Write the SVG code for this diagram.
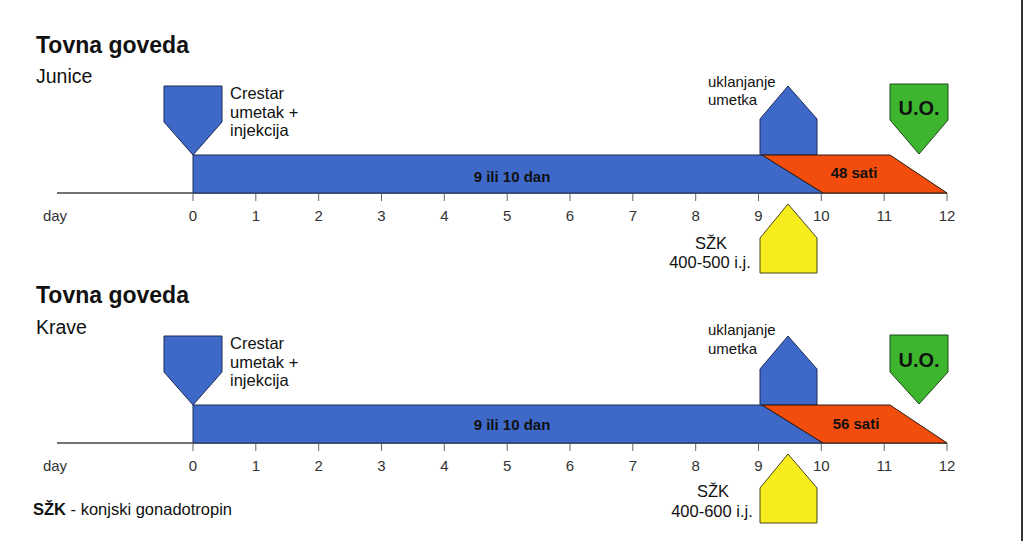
<svg xmlns="http://www.w3.org/2000/svg" width="1024" height="541" viewBox="0 0 1024 541">
<style>
text{font-family:"Liberation Sans",Arial,sans-serif;fill:#111}
.h{font-size:23px;font-weight:bold}
.s{font-size:19.5px}
.l{font-size:16.5px}
.u{font-size:15px}
.b{font-size:15px;font-weight:bold}
.uo{font-size:20px;font-weight:bold}
.d{font-size:15px;fill:#333}
.blue{fill:#3e69c9;stroke:#1c2c55;stroke-width:1}
.or{fill:#f24d0c;stroke:#2a1a10;stroke-width:1}
.gr{fill:#3db52f;stroke:#1f4a1a;stroke-width:1}
.ye{fill:#f7ec1c;stroke:#4a4620;stroke-width:1}
.ax{stroke:#444;stroke-width:1.5;fill:none}
.tk{stroke:#666;stroke-width:1}
</style>
<rect width="1024" height="541" fill="#ffffff"/>
<line x1="1022" y1="0" x2="1022" y2="541" stroke="#333" stroke-width="2"/>
<defs>
<g id="axis">
<line class="ax" x1="57" y1="193" x2="947" y2="193"/>
<g class="tk">
<line x1="193" y1="193" x2="193" y2="201"/><line x1="255.8" y1="193" x2="255.8" y2="201"/><line x1="318.7" y1="193" x2="318.7" y2="201"/><line x1="381.5" y1="193" x2="381.5" y2="201"/><line x1="444.3" y1="193" x2="444.3" y2="201"/><line x1="507.2" y1="193" x2="507.2" y2="201"/><line x1="570" y1="193" x2="570" y2="201"/><line x1="632.8" y1="193" x2="632.8" y2="201"/><line x1="695.7" y1="193" x2="695.7" y2="201"/><line x1="758.5" y1="193" x2="758.5" y2="201"/><line x1="821.3" y1="193" x2="821.3" y2="201"/><line x1="884.2" y1="193" x2="884.2" y2="201"/><line x1="947" y1="193" x2="947" y2="201"/>
</g>
<g text-anchor="middle">
<text x="55" y="221" class="d">day</text>
<text x="193" y="221" class="d">0</text><text x="255.8" y="221" class="d">1</text><text x="318.7" y="221" class="d">2</text><text x="381.5" y="221" class="d">3</text><text x="444.3" y="221" class="d">4</text><text x="507.2" y="221" class="d">5</text><text x="570" y="221" class="d">6</text><text x="632.8" y="221" class="d">7</text><text x="695.7" y="221" class="d">8</text><text x="758.5" y="221" class="d">9</text><text x="821.3" y="221" class="d">10</text><text x="884.2" y="221" class="d">11</text><text x="947" y="221" class="d">12</text>
</g>
</g>
</defs>
<g id="connectors">
<use href="#axis"/>
<use href="#axis" transform="translate(0,250)"/>
</g>
<g id="panel1">
<text class="h" x="36" y="53">Tovna goveda</text>
<text class="s" x="36" y="83">Junice</text>
<g id="p1-insert">
<polygon class="blue" points="164,86 222,86 222,122 193,155 164,122"/>
<text class="l" x="230" y="99">Crestar</text>
<text class="l" x="230" y="118">umetak +</text>
<text class="l" x="230" y="136">injekcija</text>
</g>
<g id="p1-bar">
<polygon class="blue" points="193,155 762,155 823,193 193,193"/>
<text class="b" x="512" y="182" text-anchor="middle">9 ili 10 dan</text>
</g>
<g id="p1-removal">
<polygon class="blue" points="760,155 760,119 788,86 817,119 817,155"/>
<text class="u" x="708" y="87">uklanjanje</text>
<text class="u" x="708" y="105">umetka</text>
</g>
<g id="p1-hours">
<polygon class="or" points="762,155 890,155 947,193 823,193"/>
<text class="b" x="854" y="178" text-anchor="middle">48 sati</text>
</g>
<g id="p1-uo">
<polygon class="gr" points="890,84 948,84 948,120 919,154 890,120"/>
<text class="uo" x="919" y="115" text-anchor="middle">U.O.</text>
</g>
<g id="p1-szk">
<polygon class="ye" points="760,273 760,238 788,204 817,238 817,273"/>
<text class="l" x="711" y="249" text-anchor="middle">SŽK</text>
<text class="l" x="710" y="268" text-anchor="middle">400-500 i.j.</text>
</g>
</g>
<g id="panel2" transform="translate(0,250)">
<text class="h" x="36" y="53">Tovna goveda</text>
<text class="s" x="36" y="84">Krave</text>
<g id="p2-insert">
<polygon class="blue" points="164,86 222,86 222,122 193,155 164,122"/>
<text class="l" x="230" y="99">Crestar</text>
<text class="l" x="230" y="118">umetak +</text>
<text class="l" x="230" y="136">injekcija</text>
</g>
<g id="p2-bar">
<polygon class="blue" points="193,155 762,155 823,193 193,193"/>
<text class="b" x="512" y="180" text-anchor="middle">9 ili 10 dan</text>
</g>
<g id="p2-removal">
<polygon class="blue" points="760,155 760,119 788,86 817,119 817,155"/>
<text class="u" x="708" y="85">uklanjanje</text>
<text class="u" x="708" y="104">umetka</text>
</g>
<g id="p2-hours">
<polygon class="or" points="762,155 890,155 947,193 823,193"/>
<text class="b" x="856" y="179" text-anchor="middle">56 sati</text>
</g>
<g id="p2-uo">
<polygon class="gr" points="890,85 948,85 948,122 919,154 890,122"/>
<text class="uo" x="919" y="117" text-anchor="middle">U.O.</text>
</g>
<g id="p2-szk">
<polygon class="ye" points="760,273 760,238 788,204 817,238 817,273"/>
<text class="l" x="713" y="247" text-anchor="middle">SŽK</text>
<text class="l" x="712" y="267" text-anchor="middle">400-600 i.j.</text>
</g>
</g>
<g id="legend">
<text x="33" y="515" style="font-size:16.5px"><tspan font-weight="bold">SŽK</tspan> - konjski gonadotropin</text>
</g>
</svg>
